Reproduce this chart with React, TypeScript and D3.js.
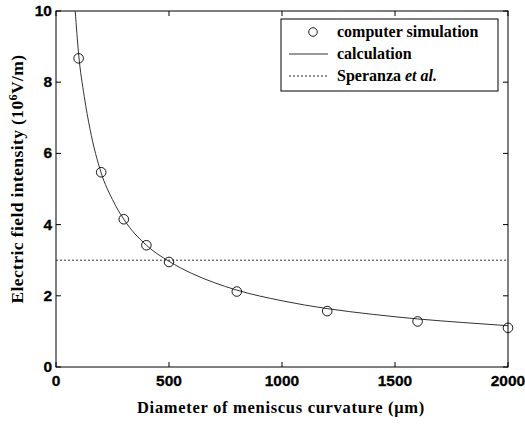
import React from "react";
import * as d3 from "d3";

const simD = [100, 200, 300, 400, 500, 800, 1200, 1600, 2000];
const simE = [8.67, 5.47, 4.15, 3.42, 2.95, 2.12, 1.57, 1.28, 1.1];
const calcD = [85, 100, 125, 150, 200, 250, 300, 400, 500, 600, 700, 800, 1000, 1200, 1400, 1600, 1800, 2000];
const calcE = [10.0, 8.8, 7.6, 6.7, 5.45, 4.7, 4.15, 3.42, 2.97, 2.63, 2.37, 2.16, 1.86, 1.64, 1.48, 1.35, 1.25, 1.16];
const speranzaE = 3.0;
const xTicks = [0, 500, 1000, 1500, 2000];
const yTicks = [0, 2, 4, 6, 8, 10];
const legendLabels = ["computer simulation", "calculation", "Speranza "];

export default function App() {
  const W = 525, H = 424;
  const L = 56, R = 508, T = 11, B = 367;
  const x = d3.scaleLinear().domain([0, 2000]).range([L, R]);
  const y = d3.scaleLinear().domain([0, 10]).range([B, T]);
  const line = d3.line<number>().x((_, i) => x(calcD[i])).y((d) => y(d)).curve(d3.curveMonotoneX);
  const sans = "Liberation Sans, Arial, sans-serif";
  const serif = "Liberation Serif, Times New Roman, serif";
  const tl = 5;
  return (
    <svg width={W} height={H} style={{ position: "absolute", left: 0, top: 0, background: "#fff" }}>
      <rect x={0} y={0} width={W} height={H} fill="#fff" />
      <defs>
        <clipPath id="plot">
          <rect x={L} y={T} width={R - L} height={B - T} />
        </clipPath>
      </defs>
      <rect x={L} y={T} width={R - L} height={B - T} fill="none" stroke="#000" strokeWidth={1} />
      {xTicks.map((t) => (
        <g key={"x" + t}>
          <line x1={x(t)} x2={x(t)} y1={B} y2={B - tl} stroke="#000" />
          <line x1={x(t)} x2={x(t)} y1={T} y2={T + tl} stroke="#000" />
          <text x={x(t)} y={B + 19} textAnchor="middle" fontFamily={sans} fontWeight="bold" fontSize={15.5} stroke="#000" strokeWidth={0.3}>{t}</text>
        </g>
      ))}
      {yTicks.map((t) => (
        <g key={"y" + t}>
          <line x1={L} x2={L + tl} y1={y(t)} y2={y(t)} stroke="#000" />
          <line x1={R} x2={R - tl} y1={y(t)} y2={y(t)} stroke="#000" />
          <text x={L - 4} y={y(t) + 5} textAnchor="end" fontFamily={sans} fontWeight="bold" fontSize={15.5} stroke="#000" strokeWidth={0.3}>{t}</text>
        </g>
      ))}
      <g clipPath="url(#plot)">
        <line x1={L} x2={R} y1={y(speranzaE)} y2={y(speranzaE)} stroke="#333" strokeDasharray="2,2" strokeWidth={1} />
        <path d={line(calcE) || ""} fill="none" stroke="#333" strokeWidth={1} />
      </g>
      {simD.map((d, i) => (
        <circle key={"p" + i} cx={x(d)} cy={y(simE[i])} r={4.8} fill="none" stroke="#000" strokeWidth={0.9} />
      ))}
      <g>
        <rect x={281} y={19} width={217} height={72} fill="#fff" stroke="#000" strokeWidth={1} />
        <circle cx={313} cy={32} r={4.3} fill="none" stroke="#000" strokeWidth={0.9} />
        <line x1={289} x2={328} y1={54} y2={54} stroke="#333" />
        <line x1={289} x2={328} y1={76} y2={76} stroke="#333" strokeDasharray="2,2" />
        <text x={337} y={37} fontFamily={serif} fontWeight="bold" fontSize={16}>{legendLabels[0]}</text>
        <text x={337} y={59} fontFamily={serif} fontWeight="bold" fontSize={16}>{legendLabels[1]}</text>
        <text x={337} y={81} fontFamily={serif} fontWeight="bold" fontSize={16}>
          {legendLabels[2]}<tspan fontStyle="italic">et al.</tspan>
        </text>
      </g>
      <text x={281} y={413} textAnchor="middle" fontFamily={serif} fontWeight="bold" fontSize={16.5} letterSpacing={0.7}>
        Diameter of meniscus curvature (μm)
      </text>
      <text transform={`translate(23,179) rotate(-90)`} textAnchor="middle" fontFamily={serif} fontWeight="bold" fontSize={17.5} letterSpacing={0.4}>
        Electric field intensity (10<tspan dy={-6} fontSize={12}>6</tspan><tspan dy={6}>V/m)</tspan>
      </text>
    </svg>
  );
}
